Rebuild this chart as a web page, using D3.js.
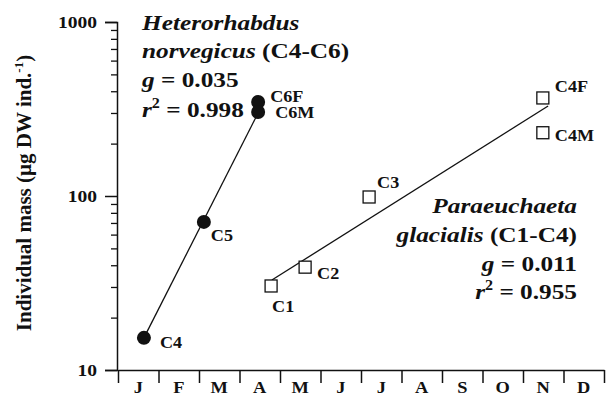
<!DOCTYPE html>
<html>
<head>
<meta charset="utf-8">
<script src="https://cdn.jsdelivr.net/npm/d3@7"></script>
<style>
  html, body { margin: 0; padding: 0; background: #fff; }
  svg text { font-family: "Liberation Serif", "Times New Roman", Times, serif !important; font-weight: bold; }
</style>
</head>
<body>
<svg id="chart"></svg>
<script>
// months along the x axis (one slot each)
const months = ["J", "F", "M", "A", "M", "J", "J", "A", "S", "O", "N", "D"];
const majorTicks = [10, 100, 1000];
const minorTicks = [20, 30, 40, 50, 60, 70, 80, 90, 200, 300, 400, 500, 600, 700, 800, 900];

// Heterorhabdus norvegicus, time in months from 1 Jan
const hetStages = ["C4", "C5", "C6F", "C6M"];
const hetMonth = [0.64, 2.12, 3.46, 3.46];
const hetMass = [15.3, 71, 347, 304];
const hetFitMonth = [0.64, 3.46];
const hetFitMass = [15.3, 300];

// Paraeuchaeta glacialis
const parStages = ["C1", "C2", "C3", "C4F", "C4M"];
const parMonth = [3.78, 4.62, 6.2, 10.49, 10.49];
const parMass = [30.4, 39, 98.7, 366, 231];
const parFitMonth = [3.8, 10.62];
const parFitMass = [32.9, 329];

const width = 606, height = 398;
const SX = 1.15; // the original lettering is a bit wide

// label offsets from the marker
const labelOffset = {
  C4: [16, 10], C5: [7, 19], C6F: [12, 0], C6M: [17, 6],
  C1: [1, 26], C2: [12, 12], C3: [8, -9], C4F: [12, -6], C4M: [12, 8]
};

const svg = d3.select("#chart").attr("width", width).attr("height", height);
svg.append("rect").attr("width", width).attr("height", height).attr("fill", "#fff");

const x = d3.scaleLinear().domain([0, 12]).range([118, 604]);
const y = d3.scaleLog().domain([10, 1000]).range([370, 22]);

const ink = "#111";

// y axis: major ticks with labels, minor ticks without
const yAxis = svg.append("g").attr("transform", `translate(${x(0) - 1},0)`)
  .call(d3.axisLeft(y).tickValues(majorTicks).tickSize(12).tickPadding(0).tickFormat(d3.format("d")));
yAxis.select(".domain").attr("stroke", ink).attr("stroke-width", 1.5);
yAxis.selectAll(".tick line").attr("stroke", ink).attr("stroke-width", 1.5);
yAxis.selectAll(".tick text")
  .attr("x", -20 / SX).attr("dy", "0.35em")
  .attr("transform", `scale(${SX},1)`)
  .attr("fill", ink).style("font-size", "17px");

const yMinor = svg.append("g").attr("transform", `translate(${x(0) - 1},0)`)
  .call(d3.axisLeft(y).tickValues(minorTicks).tickSize(6).tickFormat(""));
yMinor.select(".domain").remove();
yMinor.selectAll(".tick line").attr("stroke", ink).attr("stroke-width", 1.3);

// x axis: ticks at month boundaries, labels in the middle
const xAxis = svg.append("g").attr("transform", `translate(0,${y(10)})`)
  .call(d3.axisBottom(x).tickValues(d3.range(0, 13)).tickSize(13).tickSizeOuter(0).tickFormat(""));
xAxis.select(".domain").attr("stroke", ink).attr("stroke-width", 1.5);
xAxis.selectAll(".tick line").attr("stroke", ink).attr("stroke-width", 1.5);

svg.append("g").selectAll("text")
  .data(months)
  .join("text")
  .attr("transform", (d, i) => `translate(${x(i + 0.5)},393) scale(${SX},1)`)
  .attr("text-anchor", "middle")
  .attr("fill", ink)
  .style("font-size", "16px")
  .text(d => d);

// y axis title
const yTitle = svg.append("text")
  .attr("transform", `translate(31,193) rotate(-90)`)
  .attr("text-anchor", "middle")
  .attr("fill", ink)
  .style("font-size", "21px");
yTitle.append("tspan").text("Individual mass (µg DW ind.");
yTitle.append("tspan").attr("dy", -8).style("font-size", "13px").text("-1");
yTitle.append("tspan").attr("dy", 8).text(")");

// regression lines
const line = d3.line().x(d => x(d[0])).y(d => y(d[1]));
svg.append("path")
  .attr("d", line(d3.zip(hetFitMonth, hetFitMass)))
  .attr("fill", "none").attr("stroke", ink).attr("stroke-width", 1.3);
svg.append("path")
  .attr("d", line(d3.zip(parFitMonth, parFitMass)))
  .attr("fill", "none").attr("stroke", ink).attr("stroke-width", 1.3);

// markers
const het = d3.zip(hetStages, hetMonth, hetMass);
const par = d3.zip(parStages, parMonth, parMass);

svg.append("g").selectAll("circle")
  .data(het)
  .join("circle")
  .attr("cx", d => x(d[1]))
  .attr("cy", d => y(d[2]))
  .attr("r", 7)
  .attr("fill", ink);

const sq = 12;
svg.append("g").selectAll("rect")
  .data(par)
  .join("rect")
  .attr("x", d => x(d[1]) - sq / 2)
  .attr("y", d => y(d[2]) - sq / 2)
  .attr("width", sq)
  .attr("height", sq)
  .attr("fill", "#fff")
  .attr("stroke", ink)
  .attr("stroke-width", 1.3);

// stage labels
svg.append("g").selectAll("text")
  .data(het.concat(par))
  .join("text")
  .attr("transform", d => {
    const o = labelOffset[d[0]];
    return `translate(${x(d[1]) + o[0]},${y(d[2]) + o[1]}) scale(1.1,1)`;
  })
  .attr("fill", ink)
  .style("font-size", "16.5px")
  .text(d => d[0]);

// species annotations
function block(xp, yp, anchor, parts) {
  const t = svg.append("text")
    .attr("transform", `translate(${xp},${yp}) scale(${SX},1)`)
    .attr("text-anchor", anchor)
    .attr("fill", ink)
    .style("font-size", "22px");
  parts.forEach(p => {
    const s = t.append("tspan").text(p.t);
    if (p.i) s.style("font-style", "italic");
    if (p.sup) s.attr("dy", -9).style("font-size", "14px");
    if (p.down) s.attr("dy", 9);
  });
  return t;
}

block(142, 30, "start", [{ t: "Heterorhabdus", i: true }]);
block(142, 58, "start", [{ t: "norvegicus", i: true }, { t: " (C4-C6)" }]);
block(142, 87, "start", [{ t: "g", i: true }, { t: " = 0.035" }]);
block(142, 117, "start", [{ t: "r", i: true }, { t: "2", sup: true }, { t: " = 0.998", down: true }]);

block(577, 213, "end", [{ t: "Paraeuchaeta", i: true }]);
block(577, 242, "end", [{ t: "glacialis", i: true }, { t: " (C1-C4)" }]);
block(577, 271, "end", [{ t: "g", i: true }, { t: " = 0.011" }]);
block(577, 299, "end", [{ t: "r", i: true }, { t: "2", sup: true }, { t: " = 0.955", down: true }]);
</script>
</body>
</html>
